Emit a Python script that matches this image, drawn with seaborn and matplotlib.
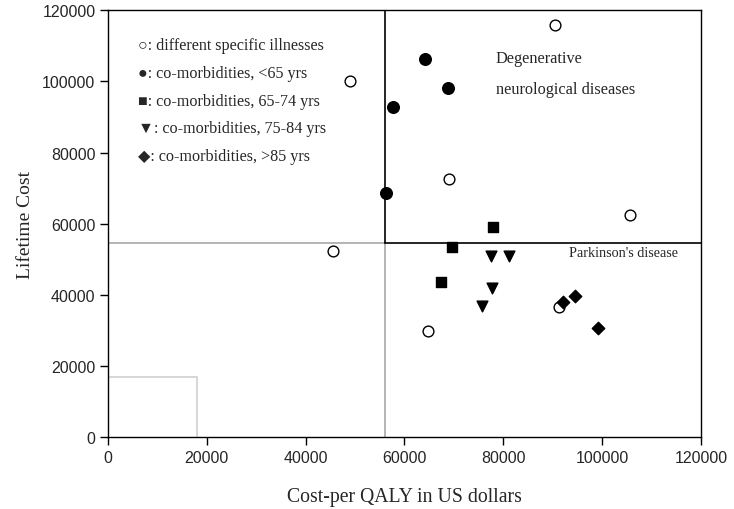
import matplotlib
matplotlib.use("Agg")
import matplotlib.pyplot as plt
import seaborn as sns
import pandas as pd

# Data
illness_x = [49000, 90500, 69000, 105600, 45500, 64700, 91300]
illness_y = [100000, 115800, 72500, 62300, 52300, 29800, 36500]
lt65_x = [64100, 68800, 57600, 56200]
lt65_y = [106200, 98200, 92900, 68700]
a6574_x = [77900, 69600, 67300]
a6574_y = [59200, 53500, 43700]
a7584_x = [77600, 81100, 77800, 75600]
a7584_y = [50900, 50900, 41800, 36900]
gt85_x = [92100, 94600, 99100]
gt85_y = [38100, 39700, 30600]

legend_labels = [
    "\u25CB: different specific illnesses",
    "\u25CF: co-morbidities, <65 yrs",
    "\u25A0: co-morbidities, 65-74 yrs",
    "\u25BC: co-morbidities, 75-84 yrs",
    "\u25C6: co-morbidities, >85 yrs",
]
ticks = [0, 20000, 40000, 60000, 80000, 100000, 120000]

threshold_x = 56000
threshold_y = 54500
box_x = 18000
box_y = 17000

sns.set_style("ticks")
serif = ["Liberation Serif", "DejaVu Serif"]
sans = ["Liberation Sans", "DejaVu Sans"]

fig, ax = plt.subplots(figsize=(7.34, 5.10), dpi=100)
fig.subplots_adjust(left=0.147, right=0.955, bottom=0.141, top=0.978)

# Reference lines
ax.plot([threshold_x, threshold_x], [0, threshold_y], color="#a8a8a8", lw=1.2, zorder=1)
ax.plot([0, threshold_x], [threshold_y, threshold_y], color="#a8a8a8", lw=1.2, zorder=1)
ax.plot([threshold_x, threshold_x], [threshold_y, 120000], color="black", lw=1.2, zorder=1)
ax.plot([threshold_x, 120000], [threshold_y, threshold_y], color="black", lw=1.2, zorder=1)
ax.plot([0, box_x, box_x], [box_y, box_y, 0], color="#d0d0d0", lw=1.2, zorder=1)

def scat(xs, ys, marker, s, face):
    df = pd.DataFrame({"x": xs, "y": ys})
    sns.scatterplot(data=df, x="x", y="y", ax=ax, marker=marker, s=s,
                    color=face, edgecolor="black", linewidth=1.0, zorder=3)

scat(illness_x, illness_y, "o", 60, "white")
scat(lt65_x, lt65_y, "o", 70, "black")
scat(a6574_x, a6574_y, "s", 50, "black")
scat(a7584_x, a7584_y, "v", 60, "black")
scat(gt85_x, gt85_y, "D", 40, "black")

# Legend as text
leg_y = [110200, 102400, 94600, 86800, 79000]
for lab, yy in zip(legend_labels, leg_y):
    ax.text(6000, yy, lab, family=serif, fontsize=11.6, va="center", ha="left")

ax.text(78500, 106600, "Degenerative", family=serif, fontsize=11.7, va="center")
ax.text(78500, 97800, "neurological diseases", family=serif, fontsize=11.7, va="center")
ax.text(93300, 52000, "Parkinson's disease", family=serif, fontsize=10.2, va="center")

ax.set_xlim(0, 120000)
ax.set_ylim(0, 120000)
ax.set_xticks(ticks)
ax.set_yticks(ticks)
ax.set_xticklabels([str(t) for t in ticks], family=sans, fontsize=11.5)
ax.set_yticklabels([str(t) for t in ticks], family=sans, fontsize=11.5)
ax.tick_params(direction="out", length=6, width=1, color="black", pad=3)
ax.set_xlabel("Cost-per QALY in US dollars", family=serif, fontsize=14.2, labelpad=16)
ax.set_ylabel("Lifetime Cost", family=serif, fontsize=14, labelpad=6)
for sp in ax.spines.values():
    sp.set_visible(True)
    sp.set_color("black")
    sp.set_linewidth(1.0)

fig.savefig("out.png", dpi=100)
